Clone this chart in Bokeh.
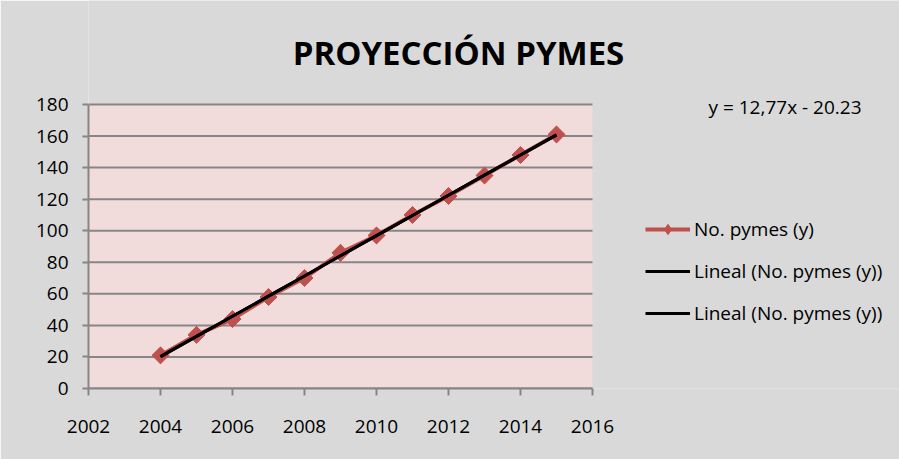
import numpy as np
from bokeh.plotting import figure
from bokeh.models import (FixedTicker, Label, Legend, LegendItem, BoxAnnotation, Range1d)
from bokeh.embed import file_html
from bokeh.resources import INLINE

# ---- data ----
years = [2004, 2005, 2006, 2007, 2008, 2009, 2010, 2011, 2012, 2013, 2014, 2015]
pymes = [21, 34, 44, 58, 70, 86, 97, 110, 122, 135, 148, 161]
x_ticks = [2002, 2004, 2006, 2008, 2010, 2012, 2014, 2016]
y_ticks = [0, 20, 40, 60, 80, 100, 120, 140, 160, 180]
title_text = "PROYECCIÓN PYMES"
equation_text = "y = 12,77x - 20.23"
series_label = "No. pymes (y)"
trend_label = "Lineal (No. pymes (y))"

# linear trend computed from the data
coef = np.polyfit(years, pymes, 1)
trend_y = list(np.polyval(coef, years))

FONT = "Open Sans"
GRID = "#868686"
RED = "#c0504d"
BG = "#d9d9d9"
PINK = "#f2dcdb"

W, H = 899, 459
LEFT = 88            # plot area left edge (px)
BOTTOM_PX = 388      # plot area bottom edge (px from top)
PLOT_W = 504         # width of the 2002-2016 area
PLOT_H = 284         # height of the 0-180 area

xmin, xmax = x_ticks[0], x_ticks[-1]
ymin, ymax = y_ticks[0], y_ticks[-1]
ppx = PLOT_W / (xmax - xmin)     # px per year
ppy = PLOT_H / (ymax - ymin)     # px per unit

FW = W - LEFT
FH = BOTTOM_PX

def px2x(px):
    return xmin + (px - LEFT) / ppx

def px2y(py):
    return ymin + (BOTTOM_PX - py) / ppy

p = figure(width=W, height=H, output_backend="svg", toolbar_location=None,
           x_range=Range1d(xmin, px2x(W)), y_range=Range1d(ymin, px2y(0)),
           min_border_left=LEFT, min_border_top=0,
           min_border_right=0, min_border_bottom=H - FH)
p.frame_width = FW
p.frame_height = FH
p.background_fill_color = BG
p.border_fill_color = BG
p.outline_line_color = None

# axes
for ax in (p.xaxis[0], p.yaxis[0]):
    ax.axis_line_color = GRID
    ax.axis_line_width = 2
    ax.major_tick_line_color = GRID
    ax.major_tick_line_width = 2
    ax.minor_tick_line_color = None
    ax.major_tick_in = 0
    ax.major_label_text_font = FONT
    ax.major_label_text_font_size = "19px"
    ax.major_label_text_color = "black"
p.xaxis[0].ticker = FixedTicker(ticks=x_ticks)
p.yaxis[0].ticker = FixedTicker(ticks=y_ticks)
p.xaxis[0].bounds = (xmin, xmax)
p.yaxis[0].bounds = (ymin, ymax)
p.xaxis[0].major_tick_out = 7
p.yaxis[0].major_tick_out = 6
p.xaxis[0].major_label_standoff = 24
p.yaxis[0].major_label_standoff = 14

p.xgrid.grid_line_color = None
p.ygrid.grid_line_color = None

# plot area background
p.add_layout(BoxAnnotation(left=xmin, right=xmax, bottom=ymin, top=ymax,
                           fill_color=PINK, fill_alpha=1, line_color=None,
                           level="image"))
# horizontal gridlines limited to the plot area
p.segment(x0=[xmin] * len(y_ticks), x1=[xmax] * len(y_ticks), y0=y_ticks, y1=y_ticks,
          line_color=GRID, line_width=2, level="underlay")

# series
l_series = p.line(years, pymes, line_color=RED, line_width=4)
d_series = p.scatter(years, pymes, marker="diamond", size=16,
                     fill_color=RED, line_color=RED)
s_series = p.scatter(years, pymes, marker="square", angle=np.pi / 4, size=12,
                     fill_color=RED, line_color=RED)
t1 = p.line(years, trend_y, line_color="black", line_width=3)
t2 = p.line(years, trend_y, line_color="black", line_width=3)

# title
p.add_layout(Label(x=px2x(458), y=px2y(51.7),
                   text=title_text, text_font=FONT, text_font_style="bold",
                   text_font_size="33px", text_align="center", text_baseline="middle",
                   text_color="black"))
# equation
p.add_layout(Label(x=px2x(708), y=px2y(106.7),
                   text=equation_text, text_font=FONT, text_font_size="19px",
                   text_align="left", text_baseline="middle", text_color="black"))

ITEM_H = 26
PITCH = 41.7
legend_top = 229.3 - ITEM_H / 2
legend_bottom = legend_top + 3 * ITEM_H + 2 * (PITCH - ITEM_H)
legend = Legend(items=[LegendItem(label=series_label, renderers=[l_series, d_series]),
                       LegendItem(label=trend_label, renderers=[t1]),
                       LegendItem(label=trend_label, renderers=[t2])],
                location=(645 - LEFT, BOTTOM_PX - legend_bottom))
legend.glyph_width = 45
legend.glyph_height = 26
legend.label_height = 20
legend.spacing = int(round(PITCH - ITEM_H))
legend.padding = 0
legend.margin = 0
legend.label_standoff = 4
legend.label_text_font = FONT
legend.label_text_font_size = "19px"
legend.label_text_color = "black"
legend.border_line_color = None
legend.background_fill_alpha = 0
p.add_layout(legend)

open("out.html", "w").write(file_html(p, INLINE))
